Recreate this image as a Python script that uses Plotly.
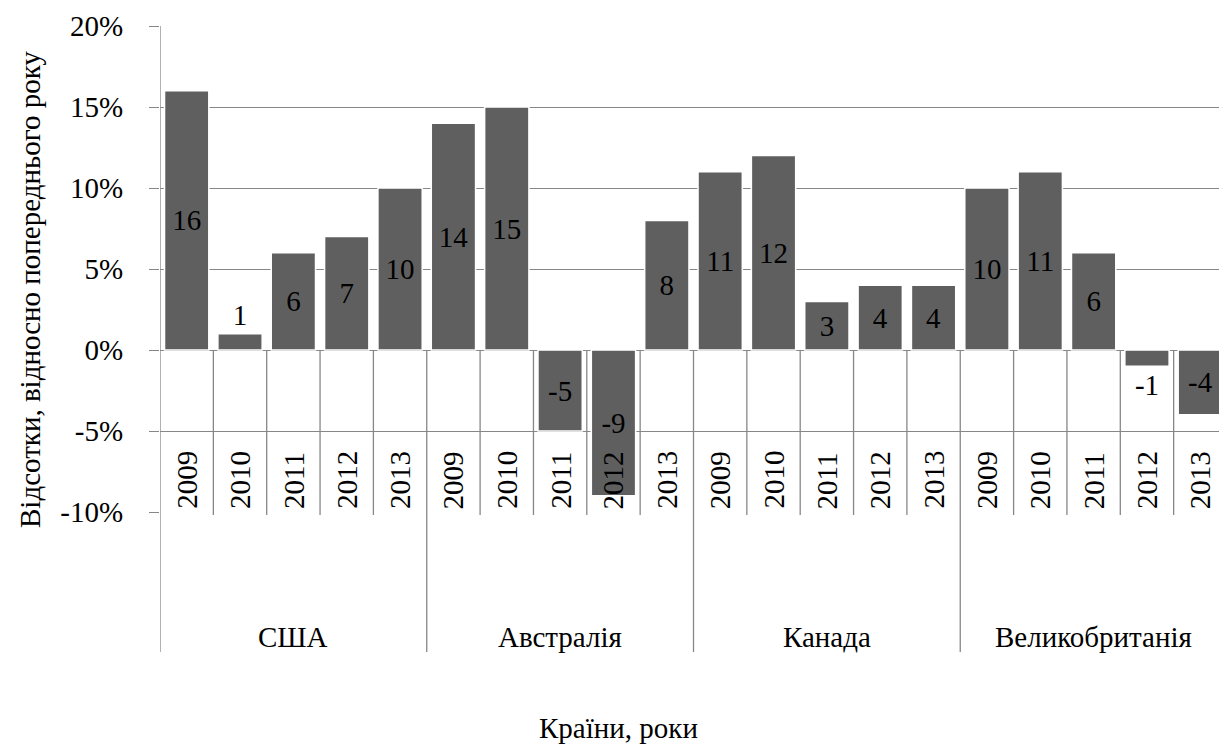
import plotly.graph_objects as go

countries = ["США", "Австралія", "Канада", "Великобританія"]
years = ["2009", "2010", "2011", "2012", "2013"]
values_usa = [16, 1, 6, 7, 10]
values_aus = [14, 15, -5, -9, 8]
values_can = [11, 12, 3, 4, 4]
values_uk = [10, 11, 6, -1, -4]
tick_vals = [-10, -5, 0, 5, 10, 15, 20]
tick_text = ["-10%", "-5%", "0%", "5%", "10%", "15%", "20%"]
y_title = "Відсотки, відносно попереднього року"
x_title = "Країни, роки"

values = values_usa + values_aus + values_can + values_uk
year_labels = years * len(countries)
n = len(values)
xs = list(range(n))

FONT = "Liberation Serif"
FS = 29
GRID = "#878787"

fig = go.Figure()
fig.add_trace(go.Bar(
    x=xs, y=values,
    marker=dict(color="#5f5f5f", line=dict(color="white", width=1.5)),
    text=[str(v) for v in values],
    textposition=["outside" if abs(v) < 2 else "inside" for v in values],
    insidetextanchor="middle",
    textangle=0,
    insidetextfont=dict(family=FONT, size=FS, color="black"),
    outsidetextfont=dict(family=FONT, size=FS, color="black"),
    cliponaxis=False,
    constraintext="none",
    hoverinfo="skip",
))

ymin, ymax = tick_vals[0], tick_vals[-1]
span = ymax - ymin
plot_h = 486
zero_p = (0 - ymin) / span
bottom_small = -3 / plot_h
bottom_big = -140 / plot_h
label_p = -125 / plot_h

shapes = []
# year dividers
for k in range(1, n):
    if k % len(years) == 0:
        continue
    shapes.append(dict(type="line", xref="x", yref="paper", x0=k - 0.5, x1=k - 0.5,
                       y0=zero_p, y1=bottom_small, line=dict(color=GRID, width=1.3), layer="below"))
# group dividers
for g in range(len(countries) + 1):
    xg = g * len(years) - 0.5
    top = 1 if g == 0 else zero_p
    shapes.append(dict(type="line", xref="x", yref="paper", x0=xg, x1=xg,
                       y0=top, y1=bottom_big, line=dict(color=GRID, width=1.3), layer="below"))

annotations = []
for i, yl in enumerate(year_labels):
    annotations.append(dict(x=i, y=ymin, xref="x", yref="y", text=yl, showarrow=False,
                            textangle=-90, xanchor="center", yanchor="bottom", yshift=1,
                            font=dict(family=FONT, size=FS, color="black")))
for g, c in enumerate(countries):
    annotations.append(dict(x=g * len(years) + (len(years) - 1) / 2, y=label_p, xref="x", yref="paper",
                            text=c, showarrow=False, xanchor="center", yanchor="middle",
                            font=dict(family=FONT, size=FS, color="black")))
annotations.append(dict(x=(618 - 160) / 1067, y=(512 - 728) / plot_h, xref="paper", yref="paper",
                        text=x_title, showarrow=False, xanchor="center", yanchor="middle",
                        font=dict(family=FONT, size=FS, color="black")))
annotations.append(dict(x=(30 - 160) / 1067, y=(512 - 290) / plot_h, xref="paper", yref="paper",
                        text=y_title, showarrow=False, textangle=-90, xanchor="center", yanchor="middle",
                        font=dict(family=FONT, size=FS, color="black")))

# the page body adds an 8px offset, so the figure is sized/positioned to compensate
fig.update_layout(
    width=1219, height=736,
    margin=dict(l=152, r=0, t=18, b=232),
    font=dict(family=FONT, size=FS, color="black"),
    paper_bgcolor="white", plot_bgcolor="white",
    bargap=0.17,
    showlegend=False,
    shapes=shapes,
    annotations=annotations,
    xaxis=dict(range=[-0.5, n - 0.5], showticklabels=False, showgrid=False, zeroline=False,
               showline=False, ticks=""),
    yaxis=dict(range=[ymin, ymax], tickvals=tick_vals, ticktext=tick_text,
               showgrid=True, gridcolor=GRID, gridwidth=1.3, zeroline=False,
               ticks="outside", ticklen=10, tickcolor=GRID, tickwidth=1.3,
               ticklabelstandoff=20,
               tickfont=dict(family=FONT, size=FS, color="black"), showline=False),
)

fig.write_html("out.html")
